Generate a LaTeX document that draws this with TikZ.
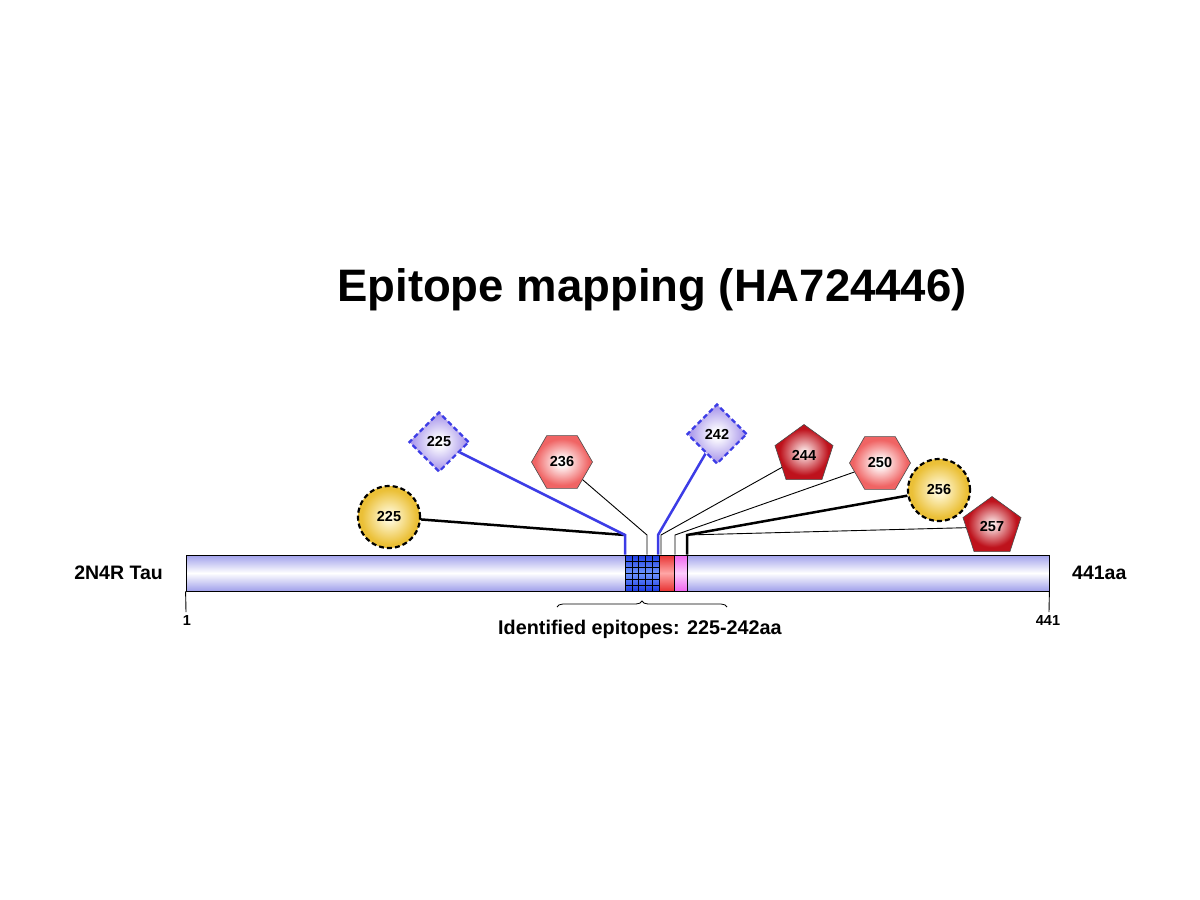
\documentclass[tikz,border=0pt]{standalone}
\usepackage{fontspec}
\setmainfont{Liberation Sans}
\usetikzlibrary{shapes.geometric,decorations.pathreplacing}
\definecolor{barc}{RGB}{160,160,235}
\definecolor{gridtop}{RGB}{30,60,225}
\definecolor{gridmid}{RGB}{110,150,255}
\definecolor{redtop}{RGB}{232,50,50}
\definecolor{redmid}{RGB}{255,165,165}
\definecolor{pinktop}{RGB}{238,100,238}
\definecolor{pinkmid}{RGB}{252,205,252}
\definecolor{linkblue}{RGB}{60,60,230}
\pgfdeclareradialshading{softgold}{\pgfpoint{0bp}{0bp}}{color(0bp)=(rgb,255:red,255;green,252;blue,235); color(3bp)=(rgb,255:red,255;green,248;blue,215); color(22bp)=(rgb,255:red,235;green,192;blue,55); color(50bp)=(rgb,255:red,235;green,192;blue,55)}
\pgfdeclareradialshading{softlav}{\pgfpoint{0bp}{0bp}}{color(0bp)=(white); color(3bp)=(white); color(22bp)=(rgb,255:red,175;green,158;blue,236); color(50bp)=(rgb,255:red,175;green,158;blue,236)}
\pgfdeclareradialshading{softpink}{\pgfpoint{0bp}{0bp}}{color(0bp)=(white); color(3bp)=(white); color(22bp)=(rgb,255:red,240;green,100;blue,100); color(50bp)=(rgb,255:red,240;green,100;blue,100)}
\pgfdeclareradialshading{softred}{\pgfpoint{0bp}{0bp}}{color(0bp)=(white); color(2bp)=(rgb,255:red,250;green,228;blue,228); color(21bp)=(rgb,255:red,190;green,18;blue,28); color(50bp)=(rgb,255:red,190;green,18;blue,28)}
\tikzset{
  lbl/.style={font=\fontsize{14.5}{15}\selectfont\bfseries, inner sep=0pt},
  circ/.style={circle, lbl, minimum size=62pt, shading=softgold, draw=black, line width=2.2pt, dash pattern=on 5pt off 3pt},
  diam/.style={diamond, lbl, aspect=1, minimum width=60pt, minimum height=60pt, shading=softlav, draw=linkblue, line width=2.2pt, dash pattern=on 5pt off 3pt},
  hexa/.style={regular polygon, regular polygon sides=6, lbl, minimum size=61pt, shading=softpink, draw=black!70, line width=0.6pt},
  penta/.style={regular polygon, regular polygon sides=5, lbl, minimum size=61pt, shading=softred, draw=black!70, line width=0.6pt},
  seg/.style={rectangle, draw=black, line width=0.8pt, inner sep=0pt, minimum height=36pt},
  bthick/.style={draw=linkblue, line width=2.5pt},
  kthick/.style={draw=black, line width=2.5pt},
  kthin/.style={draw=black, line width=0.9pt},
}
\begin{document}
\begin{tikzpicture}[x=1pt,y=-1pt]
\useasboundingbox (0,0) rectangle (1200,900);
% title
\node[font=\fontsize{45.5}{48}\selectfont\bfseries, inner sep=0pt] (title) at (652,290) {Epitope mapping (HA724446)};
% bar
\node[seg, minimum width=863pt, top color=barc, bottom color=barc, middle color=white] (bar) at (617.5,573) {};
\node[seg, minimum width=34pt, top color=gridtop, bottom color=gridtop, middle color=gridmid] (grid) at (642,573) {};
\foreach \k in {1,...,4} \draw[line width=0.6pt] (625+6.8*\k,555) -- (625+6.8*\k,591);
\foreach \k in {1,...,5} \draw[line width=0.6pt] (625,555+6*\k) -- (659,555+6*\k);
\node[seg, minimum width=15pt, top color=redtop, bottom color=redtop, middle color=redmid] (redseg) at (666.5,573) {};
\node[seg, minimum width=13pt, top color=pinktop, bottom color=pinktop, middle color=pinkmid] (pinkseg) at (680.5,573) {};
% side labels
\node[font=\fontsize{19.5}{20}\selectfont\bfseries, anchor=east, inner sep=0pt] (name) at (163,573) {2N4R Tau};
\node[font=\fontsize{19.5}{20}\selectfont\bfseries, anchor=west, inner sep=0pt] (len) at (1072,573) {441aa};
\coordinate (t1) at (186,612);
\coordinate (t2) at (1049,612);
\draw[line width=0.9pt] (bar.south west) -- (t1);
\draw[line width=0.9pt] (bar.south east) -- (t2);
\node[font=\fontsize{14.5}{15}\selectfont\bfseries, anchor=north, inner sep=0pt] (n1) at (187,615) {1};
\node[font=\fontsize{14.5}{15}\selectfont\bfseries, anchor=north, inner sep=0pt] (n441) at (1048,615) {441};
% brace
\coordinate (b1) at (557,607);
\coordinate (b2) at (727,607);
\draw[line width=0.8pt, decorate, decoration={brace, amplitude=6pt}] (b1) -- (b2);
\node[font=\fontsize{19.8}{20}\selectfont\bfseries, inner sep=0pt] (epi) at (640,629) {Identified epitopes: 225-242aa};
% epitope shapes
\node[circ] (c225) at (389,517) {225};
\node[diam] (d225) at (439,442) {225};
\node[hexa] (h236) at (562,462) {236};
\node[diam] (d242) at (717,434) {242};
\node[penta] (p244) at (804,455) {244};
\node[hexa] (h250) at (880,463) {250};
\node[circ] (c256) at (939,490) {256};
\node[penta] (p257) at (992,527) {257};
% joints
\coordinate (j225) at (625,535);
\coordinate (j236) at (647,535);
\coordinate (j242) at (658,535);
\coordinate (j244) at (661,535);
\coordinate (j250) at (675,535);
\coordinate (j256) at (687,535);
% connectors
\draw[kthin] (h236) -- (j236) -- (j236 |- bar.north);
\draw[kthin] (p244) -- (j244) -- (j244 |- bar.north);
\draw[kthin] (h250) -- (j250) -- (j250 |- bar.north);
\draw[kthin] (p257) -- (j256);
\draw[kthick] (c225) -- (j225);
\draw[bthick] (d225) -- (j225) -- (j225 |- bar.north);
\draw[bthick] (d242) -- (j242) -- (j242 |- bar.north);
\draw[kthick] (c256) -- (j256) -- (j256 |- bar.north);
\end{tikzpicture}
\end{document}
